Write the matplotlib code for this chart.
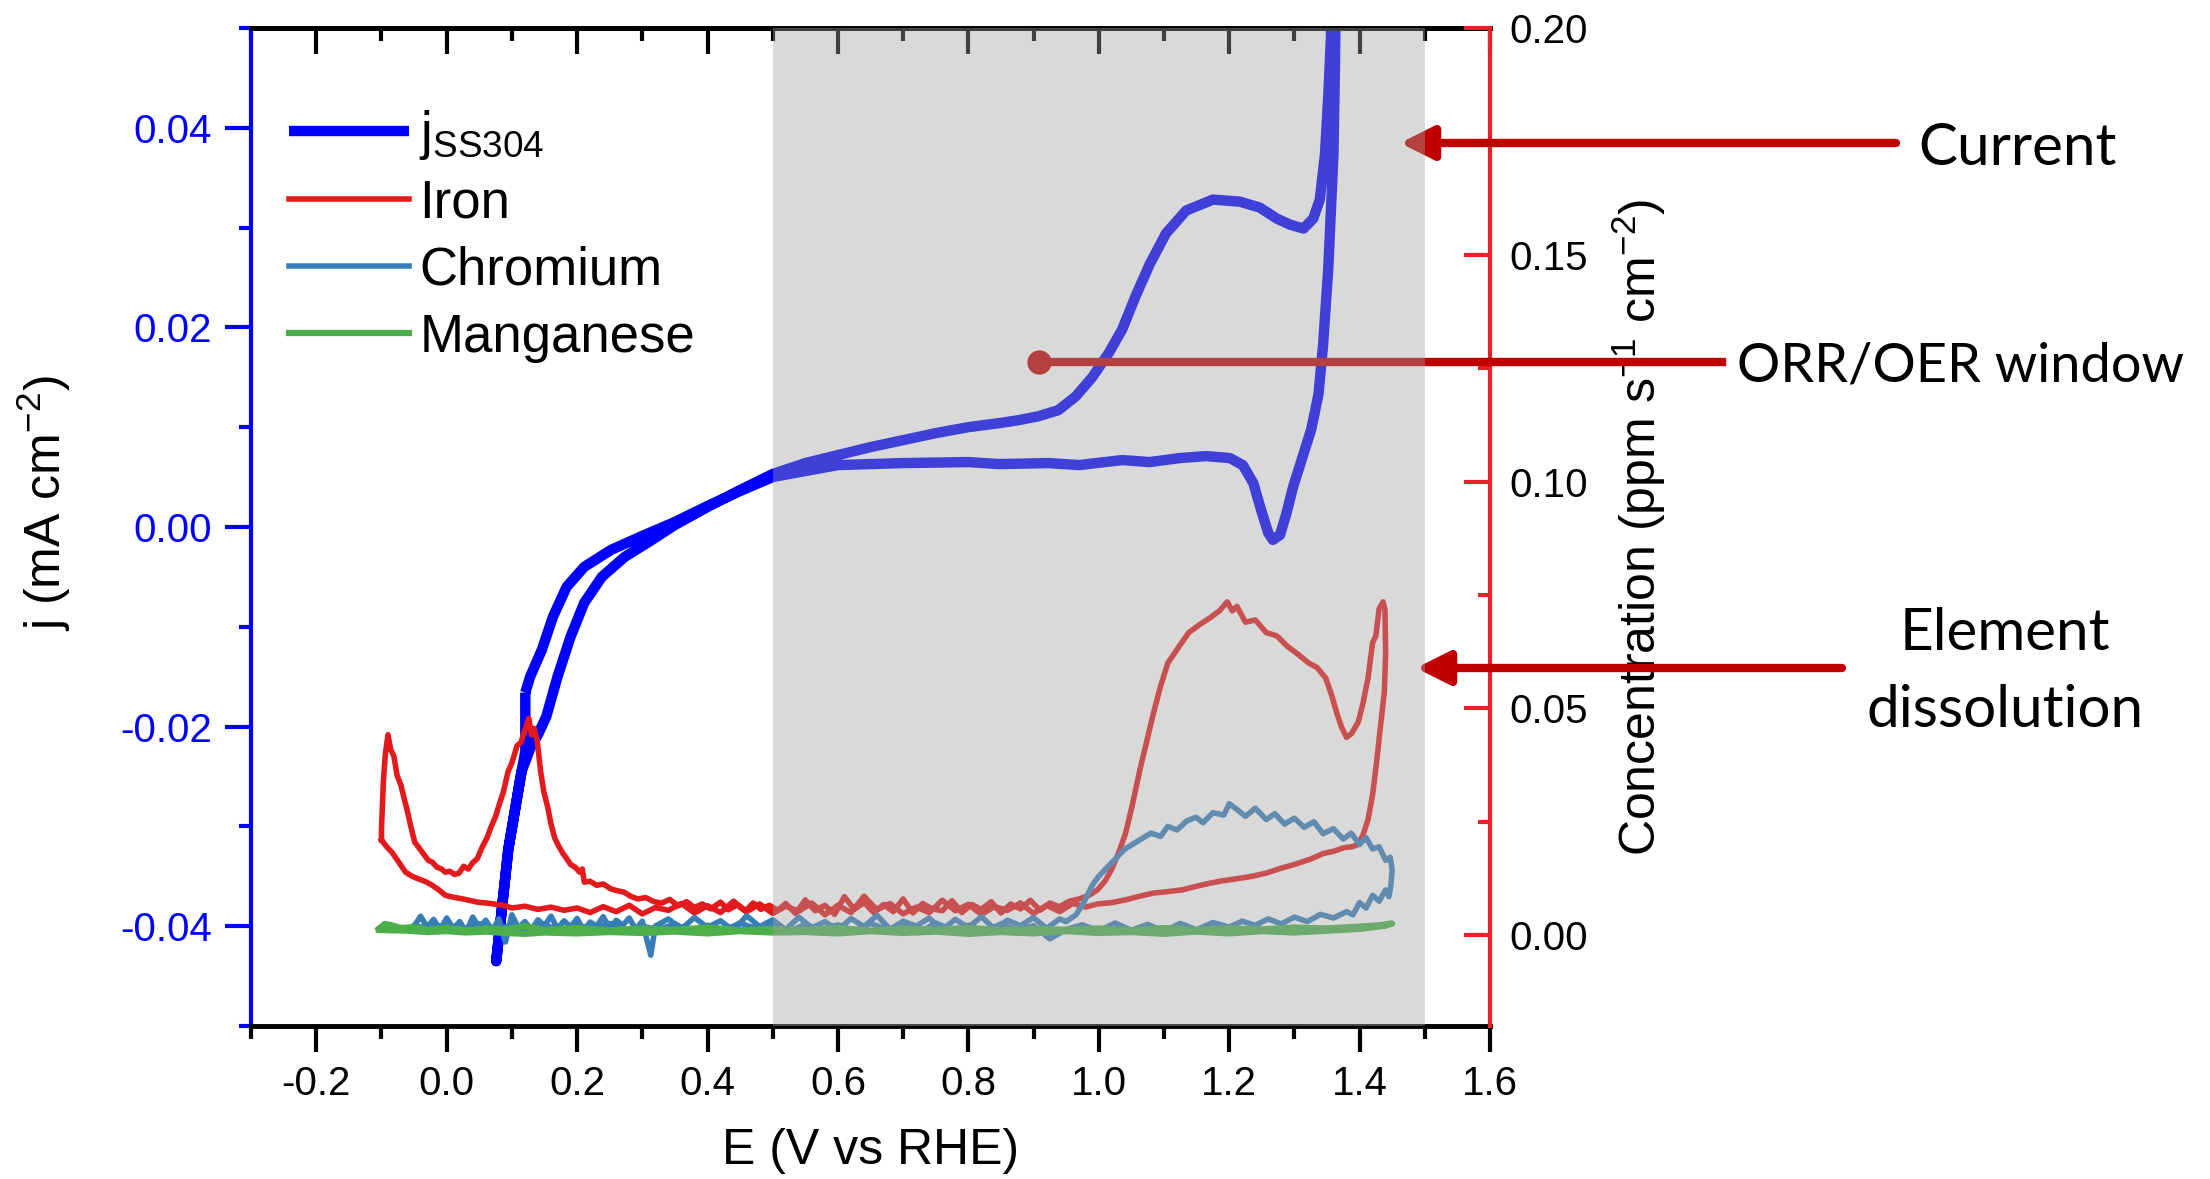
import matplotlib
matplotlib.use('Agg')
import matplotlib.pyplot as plt
from matplotlib.ticker import MultipleLocator, FormatStrFormatter

plt.rcParams['font.family'] = ['Liberation Sans', 'DejaVu Sans']
plt.rcParams['mathtext.default'] = 'regular'
plt.rcParams['axes.unicode_minus'] = False

# current density of SS304 (left axis), one CV loop
j_E = [0.1206, 0.1206, 0.1148, 0.0945, 0.076, 0.0945, 0.1148, 0.128, 0.140, 0.1528,
       0.170, 0.190, 0.211, 0.238, 0.273, 0.310, 0.350, 0.400, 0.450, 0.500,
       0.550, 0.600, 0.650, 0.700, 0.750, 0.800, 0.847, 0.877, 0.908, 0.938,
       0.965, 0.990, 1.016, 1.036, 1.057, 1.078, 1.103, 1.134, 1.175, 1.216,
       1.247, 1.273, 1.293, 1.314, 1.329, 1.339, 1.347, 1.352, 1.356, 1.358,
       1.364, 1.362, 1.360, 1.352, 1.344, 1.337, 1.326, 1.311, 1.298, 1.288,
       1.278, 1.267, 1.260, 1.249, 1.237, 1.221, 1.201, 1.165, 1.124, 1.078,
       1.036, 0.970, 0.923, 0.847, 0.800, 0.700, 0.600, 0.500, 0.450, 0.400,
       0.350, 0.300, 0.252, 0.211, 0.184, 0.163, 0.146, 0.128, 0.1206]
j_val = [-0.0166, -0.0225, -0.0245, -0.0323, -0.0435, -0.0323, -0.0245, -0.0222, -0.0208, -0.0190,
         -0.0150, -0.0110, -0.0076, -0.0050, -0.0030, -0.0015, 0.0002, 0.0020, 0.0037, 0.0053,
         0.0064, 0.0072, 0.0080, 0.0087, 0.0094, 0.0100, 0.0104, 0.0107, 0.0111, 0.0117,
         0.0131, 0.0150, 0.0175, 0.0198, 0.0232, 0.0263, 0.0294, 0.0317, 0.0328, 0.0326,
         0.0320, 0.0309, 0.0303, 0.0299, 0.0309, 0.0328, 0.0374, 0.0432, 0.0489, 0.0560,
         0.0560, 0.0450, 0.0374, 0.0259, 0.0182, 0.0133, 0.0098, 0.0067, 0.0040, 0.0014,
         -0.0008, -0.0013, -0.0006, 0.0017, 0.0044, 0.0062, 0.0069, 0.0071, 0.0069, 0.0065,
         0.0067, 0.0062, 0.0064, 0.0063, 0.0065, 0.0064, 0.0062, 0.0050, 0.0036, 0.0021,
         0.0005, -0.0009, -0.0023, -0.0040, -0.0060, -0.0090, -0.0123, -0.0150, -0.0166]

# iron dissolution (right axis)
fe_E = [-0.100, -0.100, -0.097, -0.094, -0.090, -0.086, -0.081, -0.076, -0.070, -0.065,
        -0.060, -0.055, -0.049, -0.042, -0.035, -0.028, -0.022, -0.015, -0.008, -0.002,
        0.005, 0.012, 0.019, 0.026, 0.033, 0.040, 0.047, 0.055, 0.062, 0.067,
        0.075, 0.081, 0.087, 0.094, 0.100, 0.108, 0.114, 0.120, 0.126, 0.130,
        0.134, 0.139, 0.144, 0.149, 0.155, 0.160, 0.166, 0.172, 0.178, 0.184,
        0.190, 0.197, 0.204, 0.208, 0.211, 0.220, 0.230, 0.240, 0.252, 0.262,
        0.272, 0.282, 0.293, 0.305, 0.318, 0.330, 0.342, 0.355, 0.368, 0.380,
        0.392, 0.405, 0.420, 0.432, 0.445, 0.458, 0.470, 0.482, 0.495, 0.508,
        0.520, 0.535, 0.550, 0.565, 0.580, 0.595, 0.610, 0.625, 0.640, 0.655,
        0.670, 0.685, 0.700, 0.715, 0.730, 0.745, 0.760, 0.775, 0.790, 0.805,
        0.820, 0.835, 0.850, 0.865, 0.880, 0.895, 0.910, 0.925, 0.940, 0.955,
        0.970, 0.985, 0.998, 1.010, 1.020, 1.030, 1.041, 1.052, 1.063, 1.074,
        1.084, 1.095, 1.106, 1.120, 1.138, 1.155, 1.171, 1.185, 1.197, 1.205,
        1.212, 1.225, 1.240, 1.257, 1.273, 1.290, 1.305, 1.322, 1.335, 1.348,
        1.357, 1.365, 1.372, 1.380, 1.388, 1.398, 1.405, 1.413, 1.420, 1.425,
        1.430, 1.436, 1.439, 1.440, 1.438, 1.432, 1.426, 1.420, 1.413, 1.405,
        1.398, 1.388, 1.376, 1.360, 1.344, 1.325, 1.300, 1.280, 1.257, 1.235,
        1.214, 1.190, 1.171, 1.150, 1.128, 1.105, 1.084, 1.060, 1.041, 1.020,
        0.998, 0.980, 0.960, 0.940, 0.920, 0.900, 0.880, 0.860, 0.840, 0.820,
        0.800, 0.780, 0.760, 0.740, 0.720, 0.700, 0.680, 0.660, 0.640, 0.620,
        0.600, 0.580, 0.560, 0.540, 0.520, 0.500, 0.480, 0.460, 0.440, 0.420,
        0.400, 0.380, 0.360, 0.340, 0.320, 0.300, 0.280, 0.260, 0.240, 0.220,
        0.200, 0.180, 0.160, 0.140, 0.120, 0.100, 0.087, 0.067, 0.047, 0.025,
        0.010, -0.002, -0.012, -0.022, -0.032, -0.043, -0.053, -0.063, -0.073, -0.084,
        -0.092, -0.100]
fe_c = [0.0210, 0.0235, 0.0340, 0.0400, 0.0442, 0.0410, 0.0395, 0.0352, 0.0330, 0.0300,
        0.0272, 0.0240, 0.0205, 0.0192, 0.0178, 0.0165, 0.0161, 0.0150, 0.0146, 0.0139,
        0.0141, 0.0134, 0.0137, 0.0152, 0.0146, 0.0160, 0.0169, 0.0196, 0.0215, 0.0235,
        0.0262, 0.0290, 0.0316, 0.0360, 0.0380, 0.0418, 0.0425, 0.0452, 0.0478, 0.0442,
        0.0456, 0.0427, 0.0362, 0.0316, 0.0282, 0.0245, 0.0213, 0.0196, 0.0181, 0.0169,
        0.0156, 0.0150, 0.0139, 0.0146, 0.0117, 0.0119, 0.0110, 0.0113, 0.0102, 0.0098,
        0.0095, 0.0086, 0.0080, 0.0083, 0.0074, 0.0071, 0.0079, 0.0065, 0.0074, 0.0061,
        0.0069, 0.0058, 0.0073, 0.0056, 0.0067, 0.0053, 0.0071, 0.0057, 0.0066, 0.0055,
        0.0070, 0.0048, 0.0078, 0.0054, 0.0066, 0.0046, 0.0085, 0.0057, 0.0072, 0.0050,
        0.0068, 0.0052, 0.0080, 0.0049, 0.0070, 0.0058, 0.0054, 0.0076, 0.0050, 0.0068,
        0.0057, 0.0074, 0.0049, 0.0069, 0.0058, 0.0077, 0.0055, 0.0071, 0.0063, 0.0075,
        0.0080, 0.0088, 0.0100, 0.0120, 0.0146, 0.0180, 0.0224, 0.0290, 0.0364, 0.0430,
        0.0490, 0.0550, 0.0600, 0.0630, 0.0667, 0.0685, 0.0700, 0.0715, 0.0735, 0.0715,
        0.0725, 0.0690, 0.0695, 0.0667, 0.0660, 0.0636, 0.0620, 0.0600, 0.0590, 0.0567,
        0.0530, 0.0490, 0.0460, 0.0436, 0.0445, 0.0470, 0.0510, 0.0567, 0.0645, 0.0660,
        0.0720, 0.0735, 0.0717, 0.0620, 0.0536, 0.0460, 0.0380, 0.0310, 0.0255, 0.0220,
        0.0200, 0.0195, 0.0193, 0.0185, 0.0180, 0.0168, 0.0156, 0.0148, 0.0137, 0.0130,
        0.0125, 0.0120, 0.0115, 0.0108, 0.0100, 0.0096, 0.0093, 0.0085, 0.0078, 0.0072,
        0.0069, 0.0062, 0.0070, 0.0052, 0.0066, 0.0048, 0.0071, 0.0055, 0.0063, 0.0046,
        0.0068, 0.0054, 0.0077, 0.0050, 0.0062, 0.0047, 0.0070, 0.0056, 0.0086, 0.0050,
        0.0066, 0.0045, 0.0071, 0.0053, 0.0064, 0.0048, 0.0069, 0.0052, 0.0075, 0.0050,
        0.0065, 0.0049, 0.0070, 0.0055, 0.0061, 0.0047, 0.0066, 0.0052, 0.0063, 0.0050,
        0.0060, 0.0055, 0.0062, 0.0057, 0.0064, 0.0060, 0.0066, 0.0070, 0.0073, 0.0080,
        0.0084, 0.0088, 0.0100, 0.0110, 0.0118, 0.0124, 0.0130, 0.0139, 0.0160, 0.0183,
        0.0195, 0.0210]

# chromium dissolution (right axis)
cr_E = [-0.050, -0.040, -0.030, -0.020, -0.010, 0.000, 0.010, 0.020, 0.030, 0.040,
        0.050, 0.060, 0.070, 0.080, 0.090, 0.100, 0.110, 0.120, 0.130, 0.140,
        0.150, 0.160, 0.170, 0.180, 0.190, 0.200, 0.210, 0.220, 0.230, 0.240,
        0.250, 0.260, 0.270, 0.280, 0.290, 0.300, 0.313, 0.320, 0.340, 0.360,
        0.380, 0.400, 0.420, 0.440, 0.460, 0.480, 0.500, 0.520, 0.540, 0.560,
        0.580, 0.600, 0.620, 0.640, 0.660, 0.680, 0.700, 0.720, 0.740, 0.760,
        0.780, 0.800, 0.820, 0.840, 0.860, 0.880, 0.900, 0.920, 0.940, 0.950,
        0.965, 0.976, 0.990, 1.000, 1.020, 1.040, 1.063, 1.080, 1.095, 1.106,
        1.120, 1.135, 1.149, 1.160, 1.175, 1.192, 1.200, 1.214, 1.225, 1.240,
        1.257, 1.270, 1.285, 1.300, 1.315, 1.330, 1.344, 1.360, 1.375, 1.387,
        1.400, 1.410, 1.420, 1.430, 1.440, 1.447, 1.450, 1.448, 1.445, 1.440,
        1.430, 1.420, 1.410, 1.400, 1.390, 1.380, 1.360, 1.340, 1.320, 1.300,
        1.280, 1.260, 1.240, 1.220, 1.200, 1.175, 1.150, 1.125, 1.100, 1.075,
        1.050, 1.025, 1.000, 0.975, 0.950, 0.925, 0.900, 0.875, 0.850, 0.825,
        0.800, 0.775, 0.750, 0.725, 0.700, 0.675, 0.650, 0.625, 0.600, 0.575,
        0.550, 0.525, 0.500, 0.475, 0.450, 0.425, 0.400, 0.375, 0.350, 0.325,
        0.300, 0.275, 0.250, 0.225, 0.200, 0.175, 0.150, 0.125, 0.100, 0.075,
        0.050, 0.025, 0.000, -0.025, -0.050]
cr_c = [0.0020, 0.0042, 0.0018, 0.0035, 0.0012, 0.0038, 0.0015, 0.0030, 0.0008, 0.0040,
        0.0017, 0.0033, 0.0010, 0.0036, -0.0015, 0.0045, 0.0016, 0.0030, 0.0012, 0.0034,
        0.0021, 0.0042, 0.0014, 0.0032, 0.0018, 0.0037, 0.0011, 0.0029, 0.0020, 0.0041,
        0.0015, 0.0033, 0.0022, 0.0038, 0.0013, 0.0031, -0.0044, 0.0020, 0.0036, 0.0014,
        0.0039, 0.0017, 0.0032, 0.0010, 0.0043, 0.0019, 0.0034, 0.0012, 0.0040, 0.0016,
        0.0030, 0.0011, 0.0037, 0.0019, 0.0044, 0.0013, 0.0031, 0.0020, 0.0038, 0.0012,
        0.0035, 0.0017, 0.0041, 0.0014, 0.0033, 0.0021, 0.0039, 0.0015, 0.0036, 0.0030,
        0.0045, 0.0069, 0.0110, 0.0130, 0.0160, 0.0190, 0.0210, 0.0225, 0.0218, 0.0240,
        0.0232, 0.0252, 0.0260, 0.0248, 0.0270, 0.0265, 0.0290, 0.0275, 0.0262, 0.0280,
        0.0255, 0.0268, 0.0245, 0.0258, 0.0238, 0.0250, 0.0224, 0.0235, 0.0212, 0.0225,
        0.0200, 0.0215, 0.0190, 0.0195, 0.0165, 0.0172, 0.0144, 0.0110, 0.0085, 0.0100,
        0.0075, 0.0088, 0.0060, 0.0072, 0.0045, 0.0052, 0.0038, 0.0046, 0.0030, 0.0040,
        0.0025, 0.0036, 0.0022, 0.0031, 0.0018, 0.0028, 0.0012, 0.0026, 0.0008, 0.0024,
        0.0011, 0.0027, 0.0009, 0.0023, 0.0013, -0.0008, 0.0021, 0.0010, 0.0025, 0.0007,
        0.0022, 0.0012, 0.0027, 0.0006, 0.0020, 0.0013, 0.0026, 0.0009, 0.0023, 0.0011,
        0.0024, 0.0008, 0.0021, 0.0014, 0.0027, 0.0010, 0.0022, 0.0007, 0.0025, 0.0012,
        0.0020, 0.0009, 0.0026, 0.0013, 0.0022, 0.0008, 0.0024, 0.0011, 0.0021, 0.0014,
        0.0025, 0.0010, 0.0023, 0.0016, 0.0020]

# manganese dissolution (right axis)
mn_E = [-0.104, -0.095, -0.085, -0.070, -0.050, -0.030, 0.000, 0.030, 0.060, 0.090,
        0.120, 0.150, 0.200, 0.250, 0.300, 0.350, 0.400, 0.450, 0.500, 0.550,
        0.600, 0.650, 0.700, 0.750, 0.800, 0.850, 0.900, 0.950, 1.000, 1.050,
        1.100, 1.150, 1.200, 1.250, 1.300, 1.350, 1.400, 1.430, 1.450, 1.440,
        1.400, 1.350, 1.300, 1.250, 1.200, 1.150, 1.100, 1.050, 1.000, 0.950,
        0.900, 0.850, 0.800, 0.750, 0.700, 0.650, 0.600, 0.550, 0.500, 0.450,
        0.400, 0.350, 0.300, 0.250, 0.200, 0.150, 0.120, 0.090, 0.060, 0.030,
        0.000, -0.030, -0.060, -0.090, -0.104]
mn_c = [0.0014, 0.0025, 0.0022, 0.0016, 0.0018, 0.0012, 0.0016, 0.0011, 0.0015, 0.0013,
        0.0020, 0.0012, 0.0016, 0.0011, 0.0015, 0.0012, 0.0017, 0.0011, 0.0014, 0.0012,
        0.0016, 0.0010, 0.0015, 0.0012, 0.0016, 0.0011, 0.0014, 0.0012, 0.0015, 0.0011,
        0.0016, 0.0012, 0.0015, 0.0013, 0.0017, 0.0015, 0.0019, 0.0022, 0.0026, 0.0021,
        0.0014, 0.0010, 0.0006, 0.0009, 0.0004, 0.0008, 0.0003, 0.0007, 0.0005, 0.0009,
        0.0004, 0.0007, 0.0003, 0.0008, 0.0005, 0.0009, 0.0004, 0.0007, 0.0006, 0.0009,
        0.0004, 0.0008, 0.0005, 0.0007, 0.0004, 0.0006, 0.0003, 0.0005, 0.0008, 0.0006,
        0.0009, 0.0007, 0.0010, 0.0011, 0.0012]

x_ticks = [-0.2, 0.0, 0.2, 0.4, 0.6, 0.8, 1.0, 1.2, 1.4, 1.6]
j_ticks = [-0.04, -0.02, 0.00, 0.02, 0.04]
c_ticks = [0.00, 0.05, 0.10, 0.15, 0.20]

W, H = 2210, 1179
fig = plt.figure(figsize=(W / 100, H / 100), dpi=100)
ax = fig.add_axes([0.1136, 0.1298, 0.5606, 0.8465])
ax2 = ax.twinx()

lj, = ax.plot(j_E, j_val, color='#0000ff', lw=7.5, solid_joinstyle='round',
              solid_capstyle='butt', label='j$_{SS304}$')
lfe, = ax2.plot(fe_E, fe_c, color='#e31a1c', lw=4, label='Iron')
lcr, = ax2.plot(cr_E, cr_c, color='#377eb8', lw=4, label='Chromium')
lmn, = ax2.plot(mn_E, mn_c, color='#4daf4a', lw=4.5, label='Manganese')

# ORR/OER window shading sits on top of the curves
ax2.axvspan(0.5, 1.5, color='#a2a2a2', alpha=0.4, lw=0, zorder=10)

ax.set_xlim(-0.3, 1.6)
ax.set_ylim(-0.05, 0.05)
ax2.set_ylim(-0.02, 0.20)

ax.set_xticks(x_ticks)
ax.xaxis.set_minor_locator(MultipleLocator(0.1))
ax.xaxis.set_major_formatter(FormatStrFormatter('%.1f'))
ax.set_yticks(j_ticks)
ax.yaxis.set_minor_locator(MultipleLocator(0.01))
ax.yaxis.set_major_formatter(FormatStrFormatter('%.2f'))
ax2.set_yticks(c_ticks)
ax2.yaxis.set_minor_locator(MultipleLocator(0.025))
ax2.yaxis.set_major_formatter(FormatStrFormatter('%.2f'))

ax.tick_params(axis='x', which='major', direction='out', length=19, width=3,
               labelsize=29, pad=9)
ax.tick_params(axis='x', which='minor', direction='out', length=9, width=3)
ax.tick_params(axis='y', which='major', direction='out', length=19, width=3,
               labelsize=29, pad=9, color='#0000ff', labelcolor='#0000ff')
ax.tick_params(axis='y', which='minor', direction='out', length=9, width=3,
               color='#0000ff')
ax2.tick_params(axis='y', which='major', direction='in', length=19, width=3,
                labelsize=29, pad=14, color='#e8202a')
ax2.tick_params(axis='y', which='minor', direction='in', length=9, width=3,
                color='#e8202a')

top = ax.secondary_xaxis('top')
top.set_xticks(x_ticks)
top.xaxis.set_minor_locator(MultipleLocator(0.1))
top.tick_params(which='major', direction='in', length=19, width=3, labeltop=False)
top.tick_params(which='minor', direction='in', length=9, width=3)
top.spines['top'].set_linewidth(3.5)

ax.spines['left'].set_color('#0000ff')
ax.spines['left'].set_linewidth(3)
ax.spines['bottom'].set_linewidth(3.5)
ax.spines['top'].set_linewidth(3.5)
ax.spines['right'].set_visible(False)
for s in ['left', 'top', 'bottom']:
    ax2.spines[s].set_visible(False)
ax2.spines['right'].set_color('#e8202a')
ax2.spines['right'].set_linewidth(3)

ax.set_xlabel('E (V vs RHE)', fontsize=36, labelpad=18)
ax.set_ylabel('j (mA cm$^{-2}$)', fontsize=36)
ax.yaxis.set_label_coords(-0.1437, 0.524)
ax2.set_ylabel('Concentration (ppm s$^{-1}$ cm$^{-2}$)', fontsize=36)
ax2.yaxis.set_label_coords(1.097, 0.5)

ax2.legend(handles=[lj, lfe, lcr, lmn], loc='upper left', frameon=False,
           bbox_to_anchor=(289 / W, 1 - 108 / H), bbox_transform=fig.transFigure,
           fontsize=38, handlelength=2.27, handletextpad=0.2, labelspacing=0.32,
           borderpad=0, borderaxespad=0)

# annotations (under the grey window)
red = '#c00000'
arrow = dict(arrowstyle='-|>,head_length=0.5,head_width=0.25', color=red, lw=6,
             shrinkA=0, shrinkB=0, mutation_scale=40)
ax2.annotate('', xy=(1400, H - 143), xytext=(1896, H - 143),
             xycoords='figure pixels', textcoords='figure pixels',
             arrowprops=arrow, annotation_clip=False, zorder=5)
ax2.annotate('', xy=(1416, H - 668), xytext=(1842, H - 668),
             xycoords='figure pixels', textcoords='figure pixels',
             arrowprops=arrow, annotation_clip=False, zorder=5)
ax2.plot([1039 / W, 1722 / W], [1 - 362 / H, 1 - 362 / H], color=red, lw=6,
         transform=fig.transFigure, clip_on=False, zorder=5)
ax2.plot([1039 / W], [1 - 362 / H], 'o', color=red, ms=16.5,
         transform=fig.transFigure, clip_on=False, zorder=5)

note_font = dict(family=['Lato', 'DejaVu Sans'], color='black')
fig.text(1918 / W, 1 - 165 / H, 'Current', ha='left', va='baseline',
         fontsize=42, **note_font)
fig.text(1737 / W, 1 - 382 / H, 'ORR/OER window', ha='left', va='baseline',
         fontsize=39, **note_font)
fig.text(2005 / W, 1 - 650 / H, 'Element', ha='center', va='baseline',
         fontsize=42, **note_font)
fig.text(2005 / W, 1 - 727 / H, 'dissolution', ha='center', va='baseline',
         fontsize=42, **note_font)

fig.savefig('out.png', dpi=100)
